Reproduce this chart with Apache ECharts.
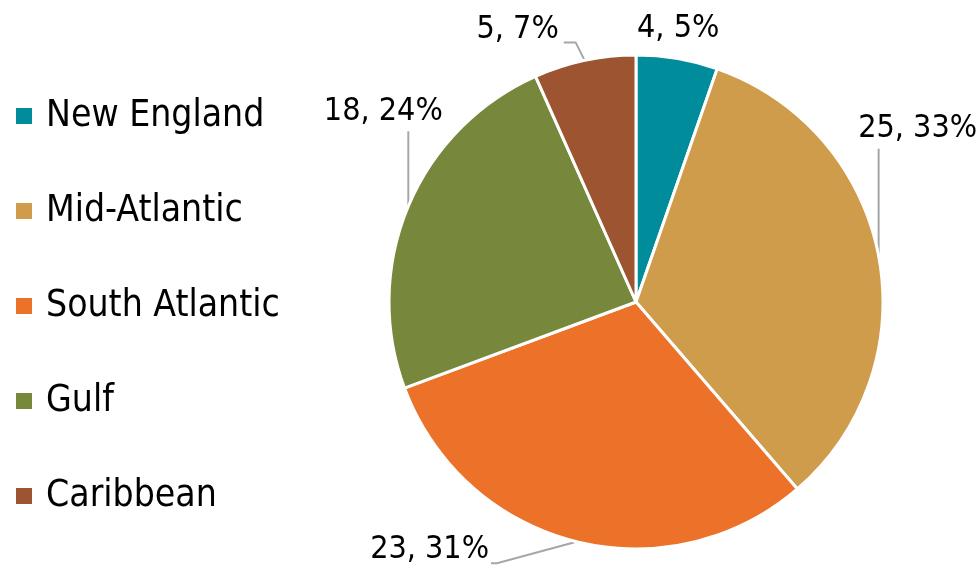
<!DOCTYPE html>
<html>
<head>
<meta charset="utf-8">
<script src="https://cdn.jsdelivr.net/npm/echarts@6/dist/echarts.min.js"></script>
<style>
  html, body { margin: 0; padding: 0; background: #ffffff; }
  #chart { width: 976px; height: 569px; }
</style>
</head>
<body>
<div id="chart"></div>
<script>
// Regions and their counts
const regions = ['New England', 'Mid-Atlantic', 'South Atlantic', 'Gulf', 'Caribbean'];
const counts = [4, 25, 23, 18, 5];
const colors = ['#008C9A', '#CF9C4C', '#EC7129', '#77873B', '#9C5530'];

const FONT = '"Liberation Sans Narrow", "Arial Narrow", "DejaVu Sans Condensed", sans-serif';
const total = counts.reduce((a, b) => a + b, 0);

// Where each value label sits relative to its slice's outer edge point,
// and how the leader line bends toward it.
const labelPlacement = [
  { dx: 1,    dy: -30,  line: 'none' },
  { dx: 39,   dy: -127, line: 'vertical' },
  { dx: -145, dy: 8,    line: 'elbowLeft' },
  { dx: -25,  dy: -95,  line: 'vertical' },
  { dx: -67,  dy: -31,  line: 'elbowUpLeft' }
];

const chart = echarts.init(document.getElementById('chart'), null, { renderer: 'canvas' });

chart.setOption({
  backgroundColor: '#ffffff',
  animation: false,
  color: colors,
  legend: {
    orient: 'vertical',
    left: 9,
    top: 91,
    icon: 'rect',
    itemWidth: 18,
    itemHeight: 18,
    itemGap: 55,
    selectedMode: false,
    textStyle: {
      fontFamily: FONT,
      fontSize: 37,
      lineHeight: 40,
      color: '#000000',
      padding: [0, 0, 0, 8]
    },
    data: regions
  },
  series: [{
    type: 'pie',
    center: [636, 302],
    radius: 247,
    startAngle: 90,
    clockwise: true,
    avoidLabelOverlap: false,
    itemStyle: { borderColor: '#ffffff', borderWidth: 3 },
    label: {
      show: true,
      position: 'outside',
      fontFamily: FONT,
      fontSize: 32,
      color: '#000000',
      formatter: p => p.value + ', ' + Math.round(p.value / total * 100) + '%'
    },
    labelLine: {
      show: true,
      length: 10,
      length2: 10,
      lineStyle: { color: '#A6A6A6', width: 2 }
    },
    labelLayout: function (params) {
      const place = labelPlacement[params.dataIndex];
      const edge = params.labelLinePoints ? params.labelLinePoints[0] : [0, 0];
      const cx = edge[0] + place.dx;
      const cy = edge[1] + place.dy;
      const w = params.labelRect.width;
      let pts;
      if (place.line === 'vertical') {
        pts = [[edge[0], edge[1]], [edge[0], cy + 20]];
      } else if (place.line === 'elbowLeft') {
        const right = cx + w / 2;
        pts = [[edge[0], edge[1] + 1], [right + 8, cy + 14], [right + 2, cy + 14]];
      } else if (place.line === 'elbowUpLeft') {
        const right = cx + w / 2;
        pts = [[edge[0], edge[1]], [edge[0] - 9, cy + 13], [right + 5, cy + 13]];
      } else {
        pts = [[edge[0], edge[1]], [edge[0], edge[1]]];
      }
      return {
        x: cx,
        y: cy,
        align: 'center',
        verticalAlign: 'middle',
        labelLinePoints: pts
      };
    },
    data: regions.map((name, i) => ({ name: name, value: counts[i] }))
  }]
});
</script>
</body>
</html>
